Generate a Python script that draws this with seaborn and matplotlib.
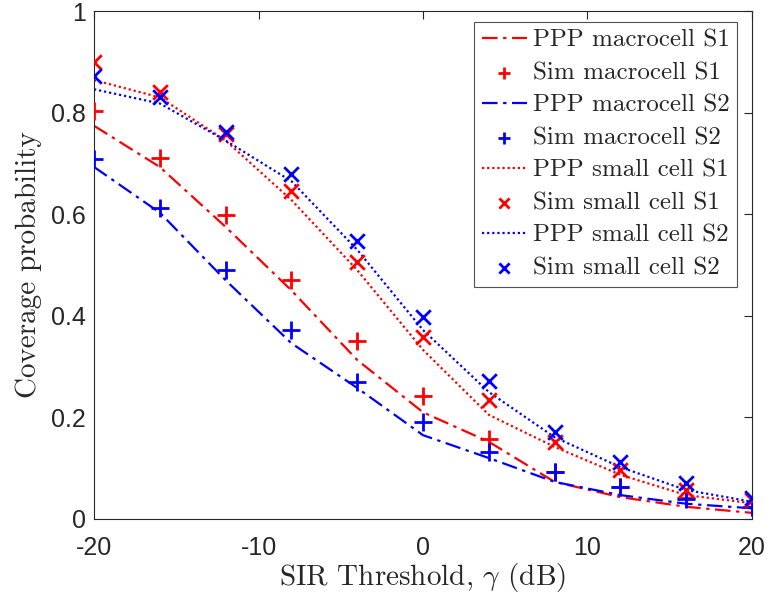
import numpy as np
import pandas as pd
import matplotlib
matplotlib.use("Agg")
import matplotlib.pyplot as plt
import seaborn as sns

sir_db = [-20, -16, -12, -8, -4, 0, 4, 8, 12, 16, 20]

ppp_macro_s1 = [0.774, 0.693, 0.575, 0.450, 0.313, 0.210, 0.152, 0.073, 0.043, 0.024, 0.012]
sim_macro_s1 = [0.803, 0.710, 0.598, 0.470, 0.350, 0.242, 0.157, 0.093, 0.063, 0.041, 0.023]
ppp_macro_s2 = [0.693, 0.603, 0.470, 0.346, 0.258, 0.165, 0.120, 0.073, 0.047, 0.030, 0.021]
sim_macro_s2 = [0.709, 0.612, 0.490, 0.372, 0.270, 0.190, 0.132, 0.093, 0.063, 0.039, 0.024]
ppp_small_s1 = [0.864, 0.830, 0.745, 0.628, 0.490, 0.333, 0.205, 0.142, 0.087, 0.047, 0.031]
sim_small_s1 = [0.900, 0.840, 0.757, 0.646, 0.506, 0.358, 0.234, 0.152, 0.096, 0.058, 0.037]
ppp_small_s2 = [0.846, 0.818, 0.745, 0.665, 0.530, 0.372, 0.250, 0.161, 0.102, 0.057, 0.034]
sim_small_s2 = [0.872, 0.830, 0.762, 0.679, 0.547, 0.398, 0.272, 0.171, 0.112, 0.071, 0.041]

labels = ["PPP macrocell S1", "Sim macrocell S1", "PPP macrocell S2", "Sim macrocell S2",
          "PPP small cell S1", "Sim small cell S1", "PPP small cell S2", "Sim small cell S2"]
series = [ppp_macro_s1, sim_macro_s1, ppp_macro_s2, sim_macro_s2,
          ppp_small_s1, sim_small_s1, ppp_small_s2, sim_small_s2]

sns.set_style("white")
plt.rcParams["mathtext.fontset"] = "cm"
plt.rcParams["axes.unicode_minus"] = False

fig = plt.figure(figsize=(7.67, 5.99), dpi=100)
ax = fig.add_axes([0.1226, 0.1336, 0.8578, 0.848])

RED = "#ff0000"
BLUE = "#0000ff"
dashdot = (7, 2.5, 1.5, 2.5)
dotted = (1, 1.3)

styles = [
    ("line", RED, dashdot, None),
    ("scatter", RED, None, "+"),
    ("line", BLUE, dashdot, None),
    ("scatter", BLUE, None, "+"),
    ("line", RED, dotted, None),
    ("scatter", RED, None, "x"),
    ("line", BLUE, dotted, None),
    ("scatter", BLUE, None, "x"),
]

for lab, vals, (kind, col, dash, mk) in zip(labels, series, styles):
    df = pd.DataFrame({"x": sir_db, "y": vals})
    if kind == "line":
        sns.lineplot(data=df, x="x", y="y", ax=ax, color=col, linewidth=1.6,
                     dashes=False, label=lab)
        ax.lines[-1].set_dashes(dash)
    else:
        s = 170 if mk == "+" else 110
        sns.scatterplot(data=df, x="x", y="y", ax=ax, color=col, marker=mk,
                        s=s, linewidth=2.0, label=lab, zorder=3)

ax.set_xlim(-20, 20)
ax.set_ylim(0, 1)
ax.set_xticks([-20, -10, 0, 10, 20])
ax.set_yticks([0, 0.2, 0.4, 0.6, 0.8, 1])
ax.set_xticklabels(["-20", "-10", "0", "10", "20"])
ax.set_yticklabels(["0", "0.2", "0.4", "0.6", "0.8", "1"])
ax.tick_params(direction="in", length=6, width=0.8, colors="#262626",
               labelsize=18, top=True, right=True, pad=6)
ax.tick_params(axis="x", pad=12)
for t in ax.get_xticklabels() + ax.get_yticklabels():
    t.set_fontfamily("Liberation Sans")
for sp in ax.spines.values():
    sp.set_color("#262626")
    sp.set_linewidth(0.8)
    sp.set_visible(True)

ax.set_xlabel(r"SIR Threshold, $\gamma$ (dB)", fontfamily="cmr10", fontsize=21,
              color="#262626", labelpad=1)
ax.set_ylabel("Coverage probability", fontfamily="cmr10", fontsize=21,
              color="#262626", labelpad=6)

handles, hl = ax.get_legend_handles_labels()
order = [hl.index(l) for l in labels]
leg = ax.legend([handles[i] for i in order], labels, loc="upper right",
                bbox_to_anchor=(0.978, 0.979), prop={"family": "cmr10", "size": 18},
                frameon=True, fancybox=False, edgecolor="#262626",
                handlelength=1.8, handletextpad=0.25, labelspacing=0.4,
                borderpad=0.3, borderaxespad=0, markerscale=0.7)
leg.get_frame().set_linewidth(0.8)

fig.savefig("out.png", dpi=100)
